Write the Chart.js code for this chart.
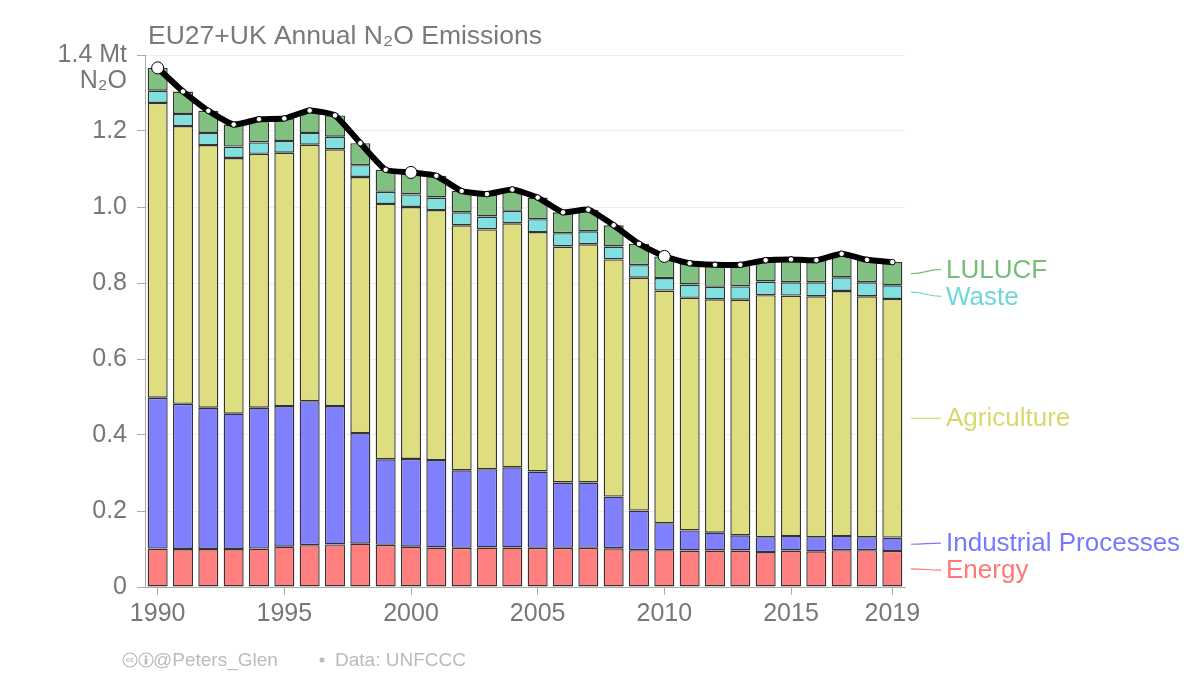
<!DOCTYPE html>
<html>
<head>
<meta charset="utf-8">
<script src="https://cdn.jsdelivr.net/npm/chart.js@4"></script>
<style>
  body { margin: 0; background: #fff; }
  #wrap { width: 1200px; height: 675px; }
</style>
</head>
<body>
<div id="wrap"><canvas id="chart"></canvas></div>
<script>
const years = [1990, 1991, 1992, 1993, 1994, 1995, 1996, 1997, 1998, 1999,
               2000, 2001, 2002, 2003, 2004, 2005, 2006, 2007, 2008, 2009,
               2010, 2011, 2012, 2013, 2014, 2015, 2016, 2017, 2018, 2019];
const shownYears = [1990, 1995, 2000, 2005, 2010, 2015, 2019];
const yTicks = [0, 0.2, 0.4, 0.6, 0.8, 1.0, 1.2, 1.4];

// Mt N2O by sector
const energy = [0.101, 0.100, 0.100, 0.100, 0.101, 0.106, 0.110, 0.112, 0.114, 0.111,
                0.106, 0.104, 0.103, 0.104, 0.104, 0.103, 0.103, 0.103, 0.102, 0.097,
                0.097, 0.096, 0.096, 0.096, 0.092, 0.096, 0.094, 0.097, 0.097, 0.095];
const industrial = [0.397, 0.382, 0.372, 0.356, 0.371, 0.370, 0.379, 0.364, 0.291, 0.225,
                    0.231, 0.230, 0.204, 0.206, 0.211, 0.201, 0.172, 0.172, 0.136, 0.104,
                    0.071, 0.053, 0.047, 0.040, 0.039, 0.038, 0.037, 0.037, 0.034, 0.035];
const agriculture = [0.776, 0.731, 0.691, 0.673, 0.668, 0.667, 0.675, 0.676, 0.674, 0.672,
                     0.663, 0.658, 0.645, 0.631, 0.642, 0.630, 0.621, 0.627, 0.624, 0.613,
                     0.612, 0.612, 0.614, 0.620, 0.637, 0.633, 0.634, 0.645, 0.634, 0.628];
const waste = [0.032, 0.032, 0.032, 0.030, 0.030, 0.031, 0.031, 0.033, 0.031, 0.032,
               0.033, 0.033, 0.034, 0.034, 0.033, 0.034, 0.035, 0.034, 0.034, 0.033,
               0.033, 0.035, 0.033, 0.035, 0.036, 0.035, 0.037, 0.036, 0.037, 0.036];
const lulucf = [0.060, 0.059, 0.058, 0.058, 0.061, 0.059, 0.059, 0.056, 0.058, 0.058,
                0.058, 0.057, 0.056, 0.059, 0.056, 0.057, 0.055, 0.057, 0.056, 0.056,
                0.057, 0.056, 0.058, 0.057, 0.056, 0.060, 0.058, 0.062, 0.059, 0.061];

const total = years.map((_, i) => energy[i] + industrial[i] + agriculture[i] + waste[i] + lulucf[i]);
const bigPoints = [1990, 2000, 2010];

const series = [
  { name: 'Energy', data: energy, fill: '#ff7f7f', text: '#ff7878' },
  { name: 'Industrial Processes', data: industrial, fill: '#8080ff', text: '#7878ff' },
  { name: 'Agriculture', data: agriculture, fill: '#dede80', text: '#d8d870' },
  { name: 'Waste', data: waste, fill: '#80e0e0', text: '#6ed8d8' },
  { name: 'LULUCF', data: lulucf, fill: '#80c080', text: '#78bc78' }
];

const FONT = "'Liberation Sans', Arial, sans-serif";
Chart.defaults.font.family = FONT;
Chart.defaults.color = '#777';

const decorations = {
  id: 'decorations',
  afterDraw(chart) {
    const ctx = chart.ctx;
    const area = chart.chartArea;
    const y = chart.scales.y;
    const last = years.length - 1;
    ctx.save();

    // title
    ctx.fillStyle = '#7a7a7a';
    ctx.font = '26.5px ' + FONT;
    ctx.textAlign = 'left';
    ctx.textBaseline = 'alphabetic';
    ctx.fillText('EU27+UK Annual N₂O Emissions', 148, 44);

    // unit under the top tick
    ctx.fillStyle = '#777';
    ctx.font = '25px ' + FONT;
    ctx.textAlign = 'right';
    ctx.fillText('N₂O', 127, 88);

    // right-hand labels
    let base = 0;
    const items = series.map(s => {
      const lo = base;
      base += s.data[last];
      const mid = y.getPixelForValue((lo + base) / 2);
      return { s, mid, ly: mid };
    });
    const gap = 27;
    for (let k = 0; k < 20; k++) {
      for (let i = 0; i < items.length - 1; i++) {
        const a = items[i], b = items[i + 1];
        if (a.ly - b.ly < gap) {
          const d = (gap - (a.ly - b.ly)) / 2;
          a.ly += d;
          b.ly -= d;
        }
      }
    }
    ctx.font = '26px ' + FONT;
    ctx.textAlign = 'left';
    ctx.textBaseline = 'middle';
    items.forEach(it => {
      ctx.strokeStyle = it.s.text;
      ctx.lineWidth = 1.2;
      ctx.beginPath();
      ctx.moveTo(area.right + 6, it.mid);
      ctx.bezierCurveTo(area.right + 20, it.mid, area.right + 22, it.ly, 941, it.ly);
      ctx.stroke();
      ctx.fillStyle = it.s.text;
      ctx.fillText(it.s.name, 946, it.ly + 1);
    });

    // footer
    const fy = 660;
    ctx.strokeStyle = '#bbb';
    ctx.fillStyle = '#bbb';
    ctx.lineWidth = 1.2;
    ctx.beginPath(); ctx.arc(130, fy, 7, 0, Math.PI * 2); ctx.stroke();
    ctx.beginPath(); ctx.arc(146, fy, 7, 0, Math.PI * 2); ctx.stroke();
    ctx.font = 'bold 7px ' + FONT;
    ctx.textAlign = 'center';
    ctx.fillText('cc', 130, fy + 0.5);
    ctx.beginPath(); ctx.arc(146, fy - 3.5, 1.3, 0, Math.PI * 2); ctx.fill();
    ctx.fillRect(144.6, fy - 1.5, 2.8, 6);
    ctx.font = '19px ' + FONT;
    ctx.textAlign = 'left';
    ctx.fillText('@Peters_Glen', 153, fy + 1);
    ctx.beginPath(); ctx.arc(322, fy, 2.5, 0, Math.PI * 2); ctx.fill();
    ctx.fillText('Data: UNFCCC', 335, fy + 1);
    ctx.restore();
  }
};

const datasets = series.map(s => ({
  type: 'bar',
  label: s.name,
  data: s.data,
  backgroundColor: s.fill,
  borderColor: '#333',
  borderWidth: 1.4,
  borderSkipped: false,
  inflateAmount: 0,
  stack: 'sectors',
  order: 2,
  categoryPercentage: 1,
  barPercentage: 0.79
}));

datasets.push({
  type: 'line',
  label: 'Total',
  data: total,
  borderColor: '#000',
  borderWidth: 6,
  tension: 0.15,
  pointRadius: c => bigPoints.includes(years[c.dataIndex]) ? 6 : 2.8,
  pointBackgroundColor: '#fff',
  pointBorderColor: '#000',
  pointBorderWidth: 1,
  stack: 'total',
  order: 1,
  clip: false
});

new Chart(document.getElementById('chart'), {
  data: { labels: years, datasets },
  options: {
    responsive: true,
    maintainAspectRatio: false,
    animation: false,
    layout: { padding: { top: 55, right: 295, bottom: 0, left: 0 } },
    plugins: {
      legend: { display: false },
      tooltip: { enabled: false },
      title: { display: false }
    },
    scales: {
      x: {
        stacked: true,
        offset: true,
        border: { color: '#aaa', width: 1 },
        grid: {
          offset: false,
          drawOnChartArea: false,
          tickLength: 8,
          tickColor: c => shownYears.includes(years[c.index]) ? '#aaa' : 'rgba(0,0,0,0)'
        },
        ticks: {
          autoSkip: false,
          maxRotation: 0,
          padding: 4,
          color: '#777',
          font: { size: 25 },
          callback: function (v) {
            const yr = Number(this.getLabelForValue(v));
            return shownYears.includes(yr) ? String(yr) : '';
          }
        },
        afterFit: s => { s.height = 88; }
      },
      y: {
        stacked: true,
        min: 0,
        max: 1.4,
        border: { color: '#aaa', width: 1 },
        grid: { color: '#eee', tickColor: '#aaa', tickLength: 8 },
        afterBuildTicks: s => { s.ticks = yTicks.map(v => ({ value: v })); },
        ticks: {
          padding: 10,
          color: '#777',
          font: { size: 25 },
          callback: v => {
            if (v === 0) return '0';
            if (Math.abs(v - 1.4) < 1e-6) return '1.4 Mt';
            return v.toFixed(1);
          }
        },
        afterFit: s => { s.width = 145; }
      }
    }
  },
  plugins: [decorations]
});
</script>
</body>
</html>
